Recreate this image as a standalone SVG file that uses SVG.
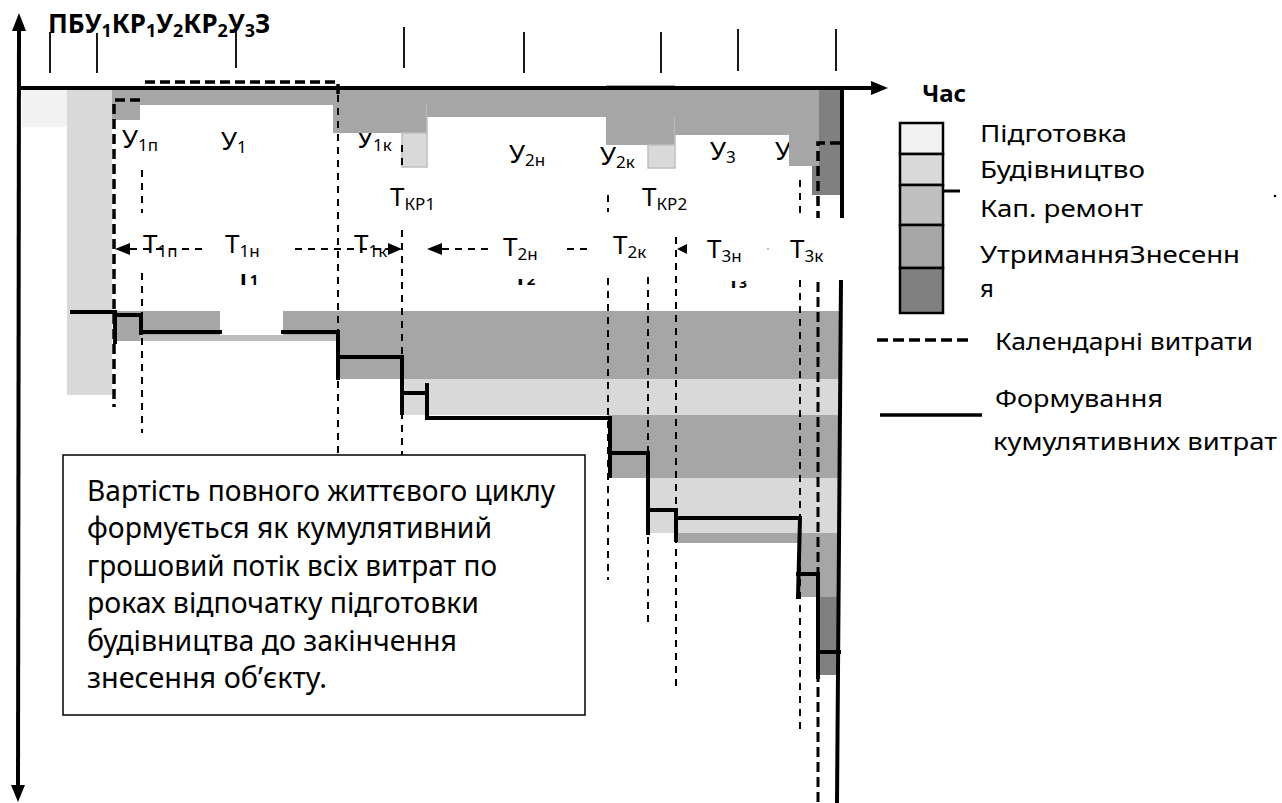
<svg xmlns="http://www.w3.org/2000/svg" width="1282" height="803" viewBox="0 0 1282 803">
<defs>
<style>
text{font-family:"Noto Sans","Open Sans","DejaVu Sans",sans-serif;fill:#000}
.lbl{font-size:26px}
.sub{font-size:17px}
.bold{font-weight:bold}
.leg{font-size:24px}
.box{font-size:29px}
.c1{fill:#f2f2f2}.c2{fill:#d9d9d9}.c3{fill:#bfbfbf}.c4{fill:#a6a6a6}.c5{fill:#808080}
.edge{stroke:#bfbfbf;stroke-width:1.5}
.ax{stroke:#000;stroke-width:4;fill:none}
.thin{stroke:#000;stroke-width:2;stroke-dasharray:7 6;fill:none}
.thick{stroke:#000;stroke-width:3.5;stroke-dasharray:10 5;fill:none}
.cum{stroke:#000;stroke-width:4;fill:none;stroke-linecap:square}
.tick{stroke:#000;stroke-width:1.8}
</style>
<clipPath id="cl1"><rect x="230" y="274" width="45" height="17"/></clipPath>
<clipPath id="cl2"><rect x="510" y="279" width="45" height="11"/></clipPath>
<clipPath id="cl3"><rect x="722" y="281" width="45" height="11"/></clipPath>
</defs>
<rect width="1282" height="803" fill="#fff"/>

<g id="top-labels">
<text class="lbl" x="122" y="148">У<tspan class="sub" dy="3">1п</tspan></text>
<text class="lbl" x="221" y="150">У<tspan class="sub" dy="3">1</tspan></text>
<text class="lbl" x="357" y="148">У<tspan class="sub" dy="3">1к</tspan></text>
<text class="lbl" x="509" y="163">У<tspan class="sub" dy="3">2н</tspan></text>
<text class="lbl" x="600" y="165">У<tspan class="sub" dy="3">2к</tspan></text>
<text class="lbl" x="710" y="160">У<tspan class="sub" dy="3">3</tspan></text>
<text class="lbl" x="775" y="160">У</text>
</g>

<g id="bands-top">
<rect class="c1" x="22" y="90" width="45" height="37"/>
<rect class="c2" x="67" y="90" width="45" height="305"/>
<rect class="c4" x="112" y="90" width="221" height="15"/>
<rect class="c4" x="112" y="90" width="28" height="30"/>
<rect class="c4" x="333" y="90" width="94" height="43"/>
<rect class="c2 edge" x="402" y="133" width="25" height="34"/>
<line class="edge" x1="427" y1="104" x2="427" y2="133"/>
<rect class="c4" x="427" y="90" width="179" height="27"/>
<rect class="c4" x="606" y="90" width="69" height="55"/>
<rect class="c2 edge" x="648" y="145" width="27" height="23"/>
<line class="edge" x1="675" y1="117" x2="675" y2="145"/>
<rect class="c4" x="675" y="90" width="114" height="45"/>
<rect class="c4" x="789" y="90" width="30" height="76"/>
<polygon class="c5" points="819,90 841,90 841,195 812,195 812,166 819,166"/>
<line x1="606" y1="85.5" x2="675" y2="85.5" stroke="#a6a6a6" stroke-width="1"/>
</g>

<g id="bands-bottom">
<rect class="c4" x="115" y="311" width="223" height="30"/>
<rect x="140" y="335" width="198" height="6" fill="#bcbcbc"/>
<rect class="c4" x="338" y="311" width="502" height="68"/>
<rect class="c2" x="402" y="379" width="438" height="36"/>
<rect class="c4" x="608" y="415" width="232" height="63"/>
<rect class="c2" x="648" y="478" width="192" height="55"/>
<rect class="c4" x="676" y="533" width="164" height="10"/>
<rect class="c4" x="798" y="543" width="42" height="54"/>
<rect class="c5" x="818" y="597" width="22" height="78"/>
<rect x="220" y="300" width="63" height="35" fill="#fff"/>
</g>

<g id="connectors">
<g id="guides">
<path class="thin" d="M142 170V213M142 273V433"/>
<path class="thin" d="M338 95V455"/>
<path class="thin" d="M402 145V167M402 230V455"/>
<path class="thin" d="M608 195V212M608 278V580"/>
<path class="thin" d="M648 277V628"/>
<path class="thin" d="M676 237V687"/>
<path class="thin" d="M800 180V218M800 280V730"/>
<path class="thin" d="M130 249H203M295 249H388M442 249H490M567 249H590"/>
<polygon points="115,249 130,243 130,255"/>
<polygon points="402,249 388,243 388,255"/>
<polygon points="427,249 442,243 442,255"/>
<polygon points="677,249 687,244 687,254"/>
<rect x="767" y="248" width="2" height="2" fill="#bbb"/>
</g>
<g id="calendar">
<path class="thick" d="M145 82H338V96"/>
<path class="thick" d="M140 100H114V407"/>
<path class="thick" d="M840 143H818V218"/>
<path class="thick" d="M818 282V803" style="stroke-width:3"/>
</g>
<g id="cumulative">
<path class="cum" d="M72 312H115M115 312V342M115 315H141V333M141 332H220M283 332H338M338 332V378M338 357H402M402 357V413M402 393H427M427 385V418M427 418H610M610 418V476M610 453H648M648 453V533M648 510H676M676 510V540M676 518H800L798 597M798 574H818M818 574V677M818 652H839"/>
</g>
<g id="axes">
<line class="ax" x1="19" y1="28" x2="18" y2="790"/>
<polygon points="19,13 12,31 26,31"/>
<polygon points="18,802 11,785 25,785"/>
<line class="ax" x1="17" y1="88" x2="874" y2="88"/>
<polygon points="888,88 871,81 871,95"/>
<path class="ax" d="M842 86V218M841 280L837 803"/>
<line class="tick" x1="50" y1="32" x2="50" y2="73"/>
<line class="tick" x1="97" y1="33" x2="97" y2="73"/>
<line class="tick" x1="236" y1="27" x2="236" y2="68"/>
<line class="tick" x1="404" y1="27" x2="404" y2="68"/>
<line class="tick" x1="524" y1="32" x2="524" y2="73"/>
<line class="tick" x1="661" y1="32" x2="661" y2="73"/>
<line class="tick" x1="738" y1="29" x2="738" y2="71"/>
<line class="tick" x1="836" y1="29" x2="836" y2="71"/>
</g>
</g>

<g id="title">
<text class="bold" x="48" y="33" font-size="26">ПБУ<tspan font-size="18" dy="4">1</tspan><tspan dy="-4">КР</tspan><tspan font-size="18" dy="4">1</tspan><tspan dy="-4">У</tspan><tspan font-size="18" dy="4">2</tspan><tspan dy="-4">КР</tspan><tspan font-size="18" dy="4">2</tspan><tspan dy="-4">У</tspan><tspan font-size="18" dy="4">3</tspan><tspan dy="-4">З</tspan></text>
<text class="bold" x="922" y="102" font-size="24">Час</text>
</g>

<g id="t-labels">
<text class="lbl" x="390" y="206">Т<tspan class="sub" dy="4">КР1</tspan></text>
<text class="lbl" x="642" y="206">Т<tspan class="sub" dy="4">КР2</tspan></text>
<text class="lbl" x="143" y="253">Т<tspan class="sub" dy="4">1п</tspan></text>
<text class="lbl" x="225" y="253">Т<tspan class="sub" dy="4">1н</tspan></text>
<text class="lbl" x="354" y="253">Т<tspan class="sub" dy="4">1к</tspan></text>
<text class="lbl" x="503" y="256">Т<tspan class="sub" dy="4">2н</tspan></text>
<text class="lbl" x="613" y="254">Т<tspan class="sub" dy="4">2к</tspan></text>
<text class="lbl" x="707" y="258">Т<tspan class="sub" dy="4">3н</tspan></text>
<text class="lbl" x="790" y="258">Т<tspan class="sub" dy="4">3к</tspan></text>
<text class="bold" x="237" y="285" font-size="22" clip-path="url(#cl1)">Т<tspan font-size="15">1</tspan></text>
<text class="bold" x="514" y="285" font-size="22" clip-path="url(#cl2)">Т<tspan font-size="15">2</tspan></text>
<text class="bold" x="728" y="288" font-size="19" clip-path="url(#cl3)">Т<tspan font-size="14">3</tspan></text>
</g>

<g id="textbox">
<rect x="63" y="455" width="522" height="260" fill="#fff" stroke="#000" stroke-width="1.5"/>
<text class="box" x="87" y="501" textLength="468" lengthAdjust="spacingAndGlyphs">Вартість повного життєвого циклу</text>
<text class="box" x="87" y="538" textLength="405" lengthAdjust="spacingAndGlyphs">формується як кумулятивний</text>
<text class="box" x="87" y="576" textLength="410" lengthAdjust="spacingAndGlyphs">грошовий потік всіх витрат по</text>
<text class="box" x="87" y="613" textLength="392" lengthAdjust="spacingAndGlyphs">роках відпочатку підготовки</text>
<text class="box" x="87" y="651" textLength="370" lengthAdjust="spacingAndGlyphs">будівництва до закінчення</text>
<text class="box" x="87" y="688" textLength="240" lengthAdjust="spacingAndGlyphs">знесення об’єкту.</text>
</g>

<g id="legend">
<g stroke="#000" stroke-width="2.5">
<rect class="c1" x="900" y="123" width="43" height="31"/>
<rect class="c2" x="900" y="154" width="43" height="31"/>
<rect class="c3" x="900" y="185" width="43" height="40"/>
<rect class="c4" x="900" y="225" width="43" height="43"/>
<rect class="c5" x="900" y="268" width="43" height="45"/>
</g>
<line x1="943" y1="191" x2="960" y2="191" stroke="#000" stroke-width="3"/>
<circle cx="1275" cy="196" r="1.3" fill="#000"/>
<text class="leg" x="980" y="142" textLength="147" lengthAdjust="spacingAndGlyphs">Підготовка</text>
<text class="leg" x="980" y="178" textLength="165" lengthAdjust="spacingAndGlyphs">Будівництво</text>
<text class="leg" x="980" y="217" textLength="163" lengthAdjust="spacingAndGlyphs">Кап. ремонт</text>
<text class="leg" x="980" y="263" textLength="260" lengthAdjust="spacingAndGlyphs">УтриманняЗнесенн</text>
<text class="leg" x="980" y="297">я</text>
<line x1="877" y1="340" x2="973" y2="340" stroke="#000" stroke-width="3.5" stroke-dasharray="11 5"/>
<text class="leg" x="995" y="350" textLength="258" lengthAdjust="spacingAndGlyphs">Календарні витрати</text>
<line x1="880" y1="415" x2="982" y2="415" stroke="#000" stroke-width="3.5"/>
<text class="leg" x="995" y="407" textLength="168" lengthAdjust="spacingAndGlyphs">Формування</text>
<text class="leg" x="993" y="450" textLength="284" lengthAdjust="spacingAndGlyphs">кумулятивних витрат</text>
</g>
</svg>
